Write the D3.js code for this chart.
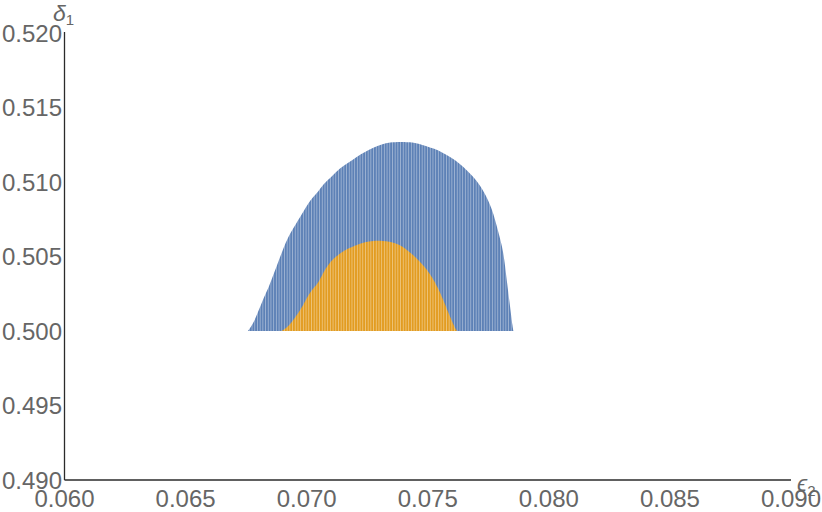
<!DOCTYPE html>
<html>
<head>
<meta charset="utf-8">
<script src="https://cdn.jsdelivr.net/npm/d3@7"></script>
<style>
  body { margin: 0; background: #fff; }
  svg { display: block; }
</style>
</head>
<body>
<div id="chart"></div>
<script>
// outer region (blue): upper boundary of delta_1 vs epsilon_2, lower edge at 0.500
const outerEps = [0.06756, 0.06759, 0.06780, 0.06800, 0.06821, 0.06842, 0.06862, 0.06883, 0.06904,
    0.06924, 0.06945, 0.06965, 0.06986, 0.07007, 0.07027, 0.07048, 0.07069, 0.07103, 0.07138,
    0.07171, 0.07207, 0.07241, 0.07275, 0.07310, 0.07344, 0.07385, 0.07439, 0.07475, 0.07509,
    0.07544, 0.07578, 0.07613, 0.07647, 0.07681, 0.07716, 0.07750, 0.07771, 0.07791, 0.07812,
    0.07826, 0.07840, 0.07851, 0.07854];
const outerDelta = [0.5000, 0.50002, 0.50052, 0.50130, 0.50219, 0.50287, 0.50376, 0.50465, 0.50555,
    0.50633, 0.50689, 0.50745, 0.50801, 0.50857, 0.50901, 0.50935, 0.50987, 0.51036, 0.51094,
    0.51128, 0.51170, 0.51203, 0.51230, 0.51253, 0.51266, 0.51270, 0.51267, 0.51250, 0.51232,
    0.51215, 0.51181, 0.51148, 0.51103, 0.51047, 0.50980, 0.50879, 0.50792, 0.50666, 0.50544,
    0.50342, 0.50163, 0.50020, 0.5000];

// inner region (orange)
const innerEps = [0.06897, 0.06924, 0.06945, 0.06965, 0.06986, 0.07007, 0.07027, 0.07048, 0.07069,
    0.07103, 0.07138, 0.07172, 0.07207, 0.07241, 0.07275, 0.07310, 0.07372, 0.07406, 0.07440,
    0.07475, 0.07509, 0.07544, 0.07578, 0.07606, 0.07620];
const innerDelta = [0.5000, 0.50029, 0.50074, 0.50119, 0.50174, 0.50242, 0.50287, 0.50320, 0.50396,
    0.50477, 0.50521, 0.50555, 0.50577, 0.50597, 0.50606, 0.50606, 0.50591, 0.50555, 0.50510,
    0.50454, 0.50387, 0.50287, 0.50152, 0.50040, 0.5000];

const baseDelta = 0.500;
const xTicks = [0.060, 0.065, 0.070, 0.075, 0.080, 0.085, 0.090];
const yTicks = [0.490, 0.495, 0.500, 0.505, 0.510, 0.515, 0.520];

const width = 822, height = 512;
const x = d3.scaleLinear().domain([0.060, 0.090]).range([64.5, 791]);
const y = d3.scaleLinear().domain([0.490, 0.520]).range([480, 33]);

const svg = d3.select('#chart').append('svg')
    .attr('width', width)
    .attr('height', height);

// striped fills, like Mathematica's sampled region plot
const defs = svg.append('defs');
function stripes(id, color) {
    const p = defs.append('pattern')
        .attr('id', id)
        .attr('patternUnits', 'userSpaceOnUse')
        .attr('x', 0.5)
        .attr('width', 2.7)
        .attr('height', 10);
    p.append('rect').attr('width', 2.7).attr('height', 10).attr('fill', color);
    p.append('rect').attr('width', 0.8).attr('height', 10).attr('fill', 'rgba(255,255,255,0.45)');
}
stripes('blueStripes', '#5d81b6');
stripes('orangeStripes', '#e29c21');

const area = d3.area()
    .x(d => x(d[0]))
    .y0(y(baseDelta))
    .y1(d => y(d[1]))
    .curve(d3.curveBasis);

svg.append('path')
    .datum(d3.zip(outerEps, outerDelta))
    .attr('fill', 'url(#blueStripes)')
    .attr('d', area);

svg.append('path')
    .datum(d3.zip(innerEps, innerDelta))
    .attr('fill', 'url(#orangeStripes)')
    .attr('d', area);

// axes
const axisColor = '#2b2b2b';
svg.append('line')
    .attr('x1', x(0.060)).attr('x2', x(0.060))
    .attr('y1', y(0.520) - 1).attr('y2', y(0.490))
    .attr('stroke', axisColor).attr('stroke-width', 1.3);
svg.append('line')
    .attr('x1', x(0.060)).attr('x2', x(0.090))
    .attr('y1', y(0.490)).attr('y2', y(0.490))
    .attr('stroke', axisColor).attr('stroke-width', 1.3);

const font = '"Liberation Sans", Arial, sans-serif';
const fmt = d3.format('.3f');

svg.append('g').selectAll('text')
    .data(yTicks)
    .enter().append('text')
    .attr('x', 62)
    .attr('y', d => y(d))
    .attr('dy', '0.36em')
    .attr('text-anchor', 'end')
    .attr('fill', '#666')
    .style('font', '24px ' + font)
    .text(fmt);

svg.append('g').selectAll('text')
    .data(xTicks)
    .enter().append('text')
    .attr('x', d => x(d))
    .attr('y', 506.5)
    .attr('text-anchor', 'middle')
    .attr('fill', '#666')
    .style('font', '24px ' + font)
    .text(fmt);

// axis labels
const yLab = svg.append('text')
    .attr('x', 53)
    .attr('y', 21)
    .attr('fill', '#666')
    .style('font', '23px ' + font);
yLab.append('tspan').style('font-style', 'italic').text('δ');
yLab.append('tspan').attr('dy', 4).style('font-size', '15px').text('1');

const xLab = svg.append('text')
    .attr('x', 797)
    .attr('y', 491)
    .attr('fill', '#666')
    .style('font', '23px ' + font);
xLab.append('tspan').style('font-style', 'italic').text('ϵ');
xLab.append('tspan').attr('dy', 5).style('font-size', '15px').text('2');
</script>
</body>
</html>
